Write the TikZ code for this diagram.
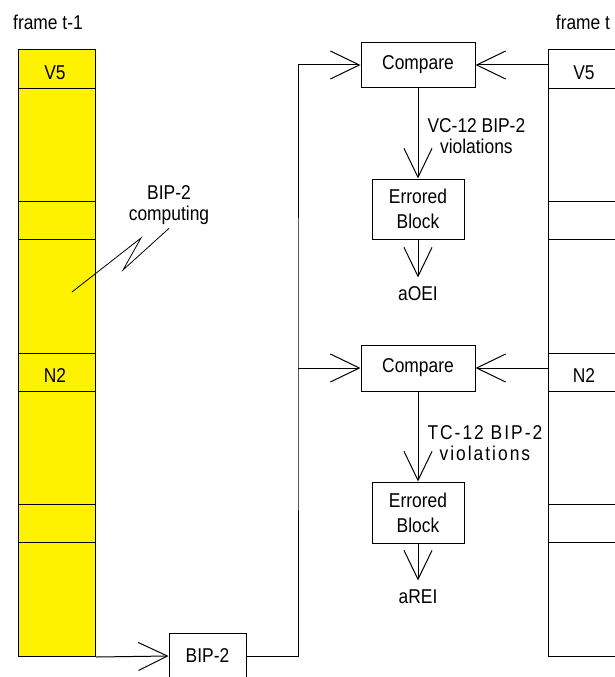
\documentclass[tikz,border=0pt]{standalone}
\usepackage{fontspec}
\setmainfont{Liberation Sans}[FakeStretch=0.87]
\usetikzlibrary{arrows.meta,positioning}

\begin{document}
\begin{tikzpicture}[x=1pt, y=-1pt,
	font=\fontsize{20}{21.5}\selectfont,
	box/.style={draw, line width=1pt, inner sep=0pt, align=center},
	frm/.style={draw, line width=1pt, inner sep=0pt, anchor=north west,
		minimum width=77pt, minimum height=607pt},
	arr/.style={-{Straight Barb[length=29pt, width=28pt]}, line width=1pt},
	spaced/.style={font=\fontsize{20}{21}\selectfont\addfontfeature{LetterSpace=10}}
]
	\useasboundingbox (0,0) rectangle (614,677);

	% Frame labels
	\node (tprev) at (48,22) {frame t-1};
	\node (tcur) at (583,22) {frame t};

	% Frames t-1 and t
	\node[frm, fill=yellow] (oldfr) at (18,49) {};
	\node[frm, fill=white] (curfr) at (548,49) {};
	\foreach \y in {88,201,239,353,391,504,542} {
		\draw[line width=1pt] (18,\y) -- (95,\y);
		\draw[line width=1pt] (548,\y) -- (625,\y);
	}
	\node (oldv) at (55,73) {V5};
	\node (oldn) at (55,376) {N2};
	\node (curv) at (584,73) {V5};
	\node (curn) at (584,376) {N2};

	% BIP-2 computing
	\node[align=center] (comp) at (169,205) {BIP-2\\computing};
	\draw[line width=0.8pt] (comp.south) -- (123,270) -- (141,238) -- (72,292);

	\node[box, minimum width=77pt, minimum height=46pt] (bip) at (207.5,656) {BIP-2};
	\draw[arr] (oldfr.south east) -- (bip.west);

	% Compare blocks
	\node[box, minimum width=114pt, minimum height=45pt] (cmp1) at (418,65) {Compare};
	\node[box, minimum width=114pt, minimum height=46pt] (cmp2) at (418,368) {Compare};

	\coordinate (bus) at (298,368);
	\draw[arr] (bip.east) -| (bus) |- (cmp1.west);
	\draw[arr] (bus) -- (cmp2.west);
	\draw[arr] (cmp1.east -| curfr.west) -- (cmp1.east);
	\draw[arr] (cmp2.east -| curfr.west) -- (cmp2.east);

	% Errored blocks
	\node[box, minimum width=92pt, minimum height=60pt,
		font=\fontsize{20}{25}\selectfont] (err1) at (418,209) {Errored\\Block};
	\node[box, minimum width=92pt, minimum height=61pt,
		font=\fontsize{20}{25}\selectfont] (err2) at (418,512.5) {Errored\\Block};

	\node[anchor=west, align=center] (vc) at (424,136) {VC-12 BIP-2\\violations};
	\node[anchor=west, align=center, spaced] (tc) at (424,443) {TC-12 BIP-2\\violations};

	\draw[arr] (cmp1) -- (err1);
	\draw[arr] (cmp2) -- (err2);

	\node[below=38pt of err1, inner ysep=9pt] (aoei) {aOEI};
	\node[below=37pt of err2, inner ysep=9pt] (arei) {aREI};
	\draw[arr] (err1) -- (aoei);
	\draw[arr] (err2) -- (arei);
\end{tikzpicture}
\end{document}
